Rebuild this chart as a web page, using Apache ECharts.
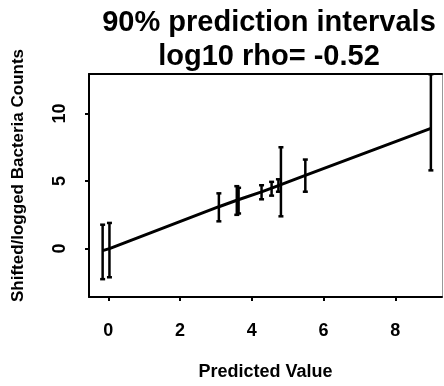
<!DOCTYPE html>
<html>
<head>
<meta charset="utf-8">
<script src="https://cdn.jsdelivr.net/npm/echarts@6/dist/echarts.min.js"></script>
<style>
html,body{margin:0;padding:0;background:#fff;}
#c{width:444px;height:386px;}
</style>
</head>
<body>
<div id="c"></div>
<script>
// Predicted values (x), interval bounds and fitted line values
const predX  = [-0.16, 0.03, 3.08, 3.58, 3.63, 4.27, 4.55, 4.74, 4.81, 5.49, 8.99];
const lower  = [-2.26, -2.12, 2.02, 2.50, 2.60, 3.65, 3.92, 4.21, 2.39, 4.21, 5.79];
const upper  = [ 1.77,  1.90, 4.09, 4.62, 4.50, 4.69, 4.94, 5.13, 7.50, 6.59, 12.9];
const fitted = [-0.15, 0.00, 3.10, 3.58, 3.63, 4.20, 4.47, 4.66, 4.73, 5.42, 8.90];
const xTicks = [0, 2, 4, 6, 8];
const yTicks = [0, 5, 10];
const titleText = "90% prediction intervals\nlog10 rho= -0.52";
const xName = "Predicted Value";
const yName = "Shifted/logged Bacteria Counts";

const FONT = '"Liberation Sans", Arial, Helvetica, sans-serif';
const chart = echarts.init(document.getElementById('c'), null, {renderer: 'canvas'});

const barData = predX.map((x, i) => [x, lower[i], upper[i]]);
const lineData = predX.map((x, i) => [x, fitted[i]]);

const X_MIN = -0.54, X_MAX = 9.30, Y_MIN = -3.58, Y_MAX = 12.92;

chart.setOption({
  animation: false,
  backgroundColor: '#fff',
  title: {
    text: titleText,
    left: 264, top: 1, textAlign: 'center',
    textStyle: {fontFamily: FONT, fontSize: 29, fontWeight: 'bold', color: '#000', lineHeight: 34}
  },
  grid: {left: 89, right: 2, top: 74, bottom: 86, containLabel: false},
  xAxis: [{
    type: 'value', min: X_MIN, max: X_MAX, position: 'bottom',
    name: xName, nameLocation: 'middle', nameGap: 66,
    nameTextStyle: {fontFamily: FONT, fontSize: 18, fontWeight: 'bold', color: '#000'},
    axisLine: {show: true, onZero: false, lineStyle: {color: '#000', width: 2}},
    axisTick: {show: true, length: 4, lineStyle: {color: '#000', width: 2}, customValues: xTicks},
    axisLabel: {show: true, margin: 25, fontFamily: FONT, fontSize: 18, fontWeight: 'bold', color: '#000', customValues: xTicks},
    splitLine: {show: false}
  }, {
    type: 'value', min: X_MIN, max: X_MAX, position: 'top',
    axisLine: {show: true, onZero: false, lineStyle: {color: '#000', width: 2}},
    axisTick: {show: false}, axisLabel: {show: false}, splitLine: {show: false}
  }],
  yAxis: [{
    type: 'value', min: Y_MIN, max: Y_MAX, position: 'left',
    name: yName, nameLocation: 'middle', nameGap: 62, nameRotate: 90,
    nameTextStyle: {fontFamily: FONT, fontSize: 17, fontWeight: 'bold', color: '#000', padding: [0, 0, 0, 20]},
    axisLine: {show: true, onZero: false, lineStyle: {color: '#000', width: 2}},
    axisTick: {show: true, length: 4, lineStyle: {color: '#000', width: 2}, customValues: yTicks},
    axisLabel: {show: true, rotate: 90, margin: 20, fontFamily: FONT, fontSize: 18, fontWeight: 'bold', color: '#000', customValues: yTicks},
    splitLine: {show: false}
  }, {
    type: 'value', min: Y_MIN, max: Y_MAX, position: 'right',
    axisLine: {show: true, onZero: false, lineStyle: {color: '#999', width: 1}},
    axisTick: {show: false}, axisLabel: {show: false}, splitLine: {show: false}
  }],
  series: [{
    type: 'line',
    data: lineData,
    symbol: 'none',
    lineStyle: {color: '#000', width: 3},
    z: 3
  }, {
    type: 'custom',
    data: barData,
    z: 4,
    renderItem: function (params, api) {
      const x = api.value(0), lo = api.value(1), hi = api.value(2);
      const a = api.coord([x, lo]), b = api.coord([x, hi]);
      const cw = 2.5;
      const st = {stroke: '#000', lineWidth: 2.5};
      return {
        type: 'group',
        children: [
          {type: 'line', shape: {x1: a[0], y1: a[1], x2: b[0], y2: b[1]}, style: st},
          {type: 'line', shape: {x1: a[0] - cw, y1: a[1], x2: a[0] + cw, y2: a[1]}, style: st},
          {type: 'line', shape: {x1: b[0] - cw, y1: b[1], x2: b[0] + cw, y2: b[1]}, style: st}
        ]
      };
    }
  }]
});
</script>
</body>
</html>
